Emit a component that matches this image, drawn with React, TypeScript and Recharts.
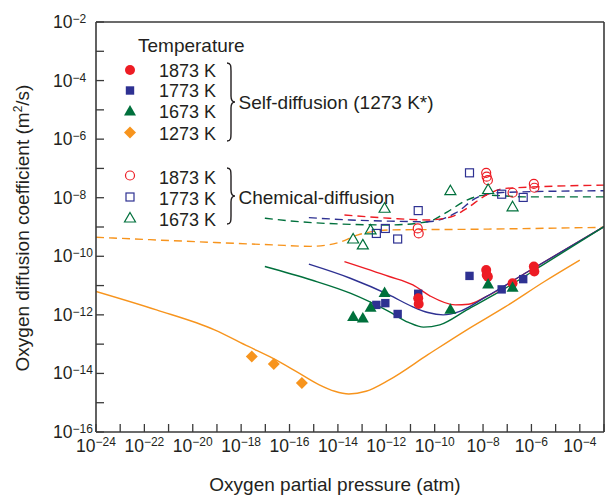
import React from 'react';
import { ComposedChart, Line, Scatter, XAxis, YAxis } from 'recharts';

// All values are log10 of the quantity.
// x: log10 oxygen partial pressure (atm), y: log10 diffusion coefficient (m^2/s)

const xTicks = [-24, -23, -22, -21, -20, -19, -18, -17, -16, -15, -14, -13, -12, -11, -10, -9, -8, -7, -6, -5, -4, -3];
const yTicks = [-16, -15, -14, -13, -12, -11, -10, -9, -8, -7, -6, -5, -4, -3, -2];

// Self-diffusion model curves (solid)
const self1273LineX = [-24, -21.5, -19.1, -17.7, -16.7, -15.73, -14.77, -14.13, -13.55, -12.84, -11.88, -10.28, -8.67, -7.07, -5.46, -4.0];
const self1273LineY = [-11.2, -11.83, -12.51, -13.08, -13.48, -13.93, -14.39, -14.61, -14.7, -14.61, -14.22, -13.36, -12.51, -11.72, -10.86, -10.13];
const self1673LineX = [-17.02, -15.09, -13.49, -11.88, -11.08, -10.46, -9.79, -8.67, -7.07, -5.46, -3.0];
const self1673LineY = [-10.35, -10.81, -11.26, -11.89, -12.26, -12.42, -12.34, -11.83, -11.09, -10.26, -8.99];
const self1773LineX = [-15.2, -13.49, -11.88, -10.92, -10.28, -9.65, -8.99, -7.87, -6.26, -3.0];
const self1773LineY = [-10.27, -10.75, -11.32, -11.72, -11.92, -12.0, -11.89, -11.38, -10.58, -8.99];
const self1873LineX = [-13.73, -11.88, -10.9, -10.2, -9.15, -8.6, -7.87, -6.26, -3.0];
const self1873LineY = [-10.18, -10.69, -10.98, -11.35, -11.66, -11.64, -11.38, -10.58, -8.99];

// Chemical-diffusion model curves (dashed)
const chem1273LineX = [-24, -19.9, -16.7, -15.12, -13.97, -13.17, -11.88, -8.67, -3.0];
const chem1273LineY = [-9.35, -9.5, -9.61, -9.66, -9.53, -9.27, -9.1, -9.08, -9.01];
const chem1673LineX = [-17.02, -15.09, -11.88, -10.28, -9.47, -8.67, -7.87, -6.26, -3.0];
const chem1673LineY = [-8.7, -8.85, -8.93, -8.82, -8.48, -8.08, -7.91, -7.97, -7.97];
const chem1773LineX = [-15.2, -13.49, -11.88, -10.28, -9.15, -8.19, -7.23, -3.0];
const chem1773LineY = [-8.68, -8.76, -8.8, -8.82, -8.53, -7.97, -7.82, -7.76];
const chem1873LineX = [-13.73, -11.88, -10.28, -9.31, -8.67, -7.87, -7.07, -3.0];
const chem1873LineY = [-8.59, -8.7, -8.76, -8.65, -8.36, -7.91, -7.68, -7.57];

// Self-diffusion measurements (filled markers)
const self1873X = [-10.68, -10.66, -7.87, -7.85, -7.8, -6.78, -5.9, -5.88];
const self1873Y = [-11.43, -11.63, -10.47, -10.64, -10.7, -10.92, -10.35, -10.52];
const self1773X = [-12.41, -12.04, -11.53, -10.68, -8.56, -7.23, -6.34];
const self1773Y = [-11.66, -11.6, -11.97, -11.28, -10.67, -11.13, -10.78];
const self1673X = [-13.37, -12.97, -12.65, -12.07, -9.35, -7.79, -6.78];
const self1673Y = [-12.06, -12.11, -11.74, -11.24, -11.81, -10.95, -11.06];
const self1273X = [-17.56, -16.65, -15.49];
const self1273Y = [-13.42, -13.68, -14.33];

// Chemical-diffusion measurements (open markers)
const chem1873X = [-10.7, -10.66, -7.87, -7.85, -7.8, -6.78, -5.9, -5.88];
const chem1873Y = [-9.05, -9.22, -7.15, -7.28, -7.4, -7.83, -7.53, -7.66];
const chem1773X = [-12.41, -12.04, -11.53, -10.68, -8.56, -7.23, -6.34];
const chem1773Y = [-9.22, -9.05, -9.41, -8.44, -7.15, -7.88, -7.99];
const chem1673X = [-13.37, -12.97, -12.65, -12.07, -9.35, -7.79, -6.78];
const chem1673Y = [-9.41, -9.61, -9.1, -8.36, -7.76, -7.72, -8.31];

const selfLegend = ['1873 K', '1773 K', '1673 K', '1273 K'];
const chemLegend = ['1873 K', '1773 K', '1673 K'];

const RED = '#ed1c24';
const BLUE = '#2e3192';
const GREEN = '#00703c';
const ORANGE = '#f7941d';
const AXIS = '#3a3a3a';
const TEXT = '#231f20';
const FONT = '"Liberation Sans", Arial, Helvetica, sans-serif';

const zip = (xs: number[], ys: number[]) => xs.map((x, i) => ({ x, y: ys[i] }));

const FilledCircle = ({ cx, cy, color }: any) => <circle cx={cx} cy={cy} r={5} fill={color} />;
const FilledSquare = ({ cx, cy, color }: any) => <rect x={cx - 4.2} y={cy - 4.2} width={8.4} height={8.4} fill={color} />;
const FilledTriangle = ({ cx, cy, color }: any) => (
  <path d={`M${cx},${cy - 6} L${cx + 6},${cy + 4.5} L${cx - 6},${cy + 4.5} Z`} fill={color} />
);
const FilledDiamond = ({ cx, cy, color }: any) => (
  <path d={`M${cx},${cy - 6} L${cx + 6},${cy} L${cx},${cy + 6} L${cx - 6},${cy} Z`} fill={color} />
);
const OpenCircle = ({ cx, cy, color }: any) => <circle cx={cx} cy={cy} r={4.5} fill="none" stroke={color} strokeWidth={1.2} />;
const OpenSquare = ({ cx, cy, color }: any) => (
  <rect x={cx - 4} y={cy - 4} width={8} height={8} fill="none" stroke={color} strokeWidth={1.2} />
);
const OpenTriangle = ({ cx, cy, color }: any) => (
  <path d={`M${cx},${cy - 5.5} L${cx + 5.5},${cy + 4} L${cx - 5.5},${cy + 4} Z`} fill="none" stroke={color} strokeWidth={1.2} />
);

const XTick = (props: any) => {
  const { x, y, payload } = props;
  const v = payload.value;
  if (Math.abs(v % 2) === 1 || v > -4) return <g />;
  return (
    <text x={x} y={y + 20} textAnchor="middle" fill={TEXT} fontFamily={FONT}>
      <tspan fontSize={17.5}>10</tspan>
      <tspan fontSize={12} dy={-6}>{'\u2212' + Math.abs(v)}</tspan>
    </text>
  );
};

const YTick = (props: any) => {
  const { x, y, payload } = props;
  const v = payload.value;
  if (Math.abs(v % 2) === 1) return <g />;
  return (
    <text x={x - 43} y={y + 6} textAnchor="start" fill={TEXT} fontFamily={FONT}>
      <tspan fontSize={17.5}>10</tspan>
      <tspan fontSize={12} dy={-5}>{'\u2212' + Math.abs(v)}</tspan>
    </text>
  );
};

const brace = (x0: number, top: number, bottom: number) => {
  const mid = (top + bottom) / 2;
  const w = 4;
  return `M${x0},${top} C${x0 + w},${top} ${x0 + w},${top + 3} ${x0 + w},${top + 8} L${x0 + w},${mid - 6} C${x0 + w},${mid - 2} ${x0 + w + 1},${mid} ${x0 + 2 * w},${mid} C${x0 + w + 1},${mid} ${x0 + w},${mid + 2} ${x0 + w},${mid + 6} L${x0 + w},${bottom - 8} C${x0 + w},${bottom - 3} ${x0 + w},${bottom} ${x0},${bottom}`;
};

const LegendOverlay = () => {
  const selfRows = [76.5, 97.3, 118.3, 140];
  const chemRows = [184, 205, 226];
  const selfMarks = [
    <FilledCircle key="a" cx={130} cy={70} color={RED} />,
    <FilledSquare key="b" cx={130} cy={90.5} color={BLUE} />,
    <FilledTriangle key="c" cx={130} cy={111} color={GREEN} />,
    <FilledDiamond key="d" cx={130} cy={132.5} color={ORANGE} />,
  ];
  const chemMarks = [
    <OpenCircle key="e" cx={130} cy={175.5} color={RED} />,
    <OpenSquare key="f" cx={130} cy={197} color={BLUE} />,
    <OpenTriangle key="g" cx={130} cy={218} color={GREEN} />,
  ];
  return (
    <svg width={611} height={498} style={{ position: 'absolute', left: 0, top: 0, pointerEvents: 'none' }}>
      <g fontFamily={FONT} fill={TEXT}>
        <text x={138} y={51.5} fontSize={19}>Temperature</text>
        {selfMarks}
        {selfLegend.map((t, i) => (
          <text key={'s' + i} x={159} y={selfRows[i]} fontSize={18}>{t}</text>
        ))}
        <path d={brace(227, 63, 141)} fill="none" stroke={TEXT} strokeWidth={1.4} />
        <text x={238.5} y={109.3} fontSize={19}>Self-diffusion (1273 K*)</text>
        {chemMarks}
        {chemLegend.map((t, i) => (
          <text key={'c' + i} x={159} y={chemRows[i]} fontSize={18}>{t}</text>
        ))}
        <path d={brace(227, 168, 224)} fill="none" stroke={TEXT} strokeWidth={1.4} />
        <text x={238.5} y={204.3} fontSize={19}>Chemical-diffusion</text>
        <text x={335} y={491} fontSize={19} textAnchor="middle">Oxygen partial pressure (atm)</text>
        <text transform="translate(29,228) rotate(-90)" fontSize={19} textAnchor="middle">
          Oxygen diffusion coefficient (m<tspan fontSize={12} dy={-7}>2</tspan><tspan dy={7}>/s)</tspan>
        </text>
      </g>
    </svg>
  );
};

export default function App() {
  const axisLine = { stroke: AXIS, strokeWidth: 1.6 };
  const tickLine = { stroke: AXIS, strokeWidth: 1.3 };
  const solid = (data: any[], color: string, key: string) => (
    <Line key={key} xAxisId="b" yAxisId="l" data={data} dataKey="y" type="monotone" stroke={color}
      strokeWidth={1.4} dot={false} activeDot={false} isAnimationActive={false} legendType="none" />
  );
  const dashed = (data: any[], color: string, key: string) => (
    <Line key={key} xAxisId="b" yAxisId="l" data={data} dataKey="y" type="monotone" stroke={color}
      strokeWidth={1.4} strokeDasharray="8 5" dot={false} activeDot={false} isAnimationActive={false} legendType="none" />
  );
  const scatter = (data: any[], Shape: any, color: string, key: string, top = false) => (
    <Scatter key={key} xAxisId={top ? 't' : 'b'} yAxisId={top ? 'r' : 'l'} data={data} dataKey="y"
      isAnimationActive={false} legendType="none"
      shape={(p: any) => <Shape cx={p.cx} cy={p.cy} color={color} />} />
  );
  return (
    <div style={{ position: 'absolute', left: 0, top: 0, width: 611, height: 498, background: '#fff' }}>
      <ComposedChart width={611} height={498} margin={{ top: 20, right: 5, bottom: 30, left: 0 }}>
        <XAxis xAxisId="b" type="number" dataKey="x" domain={[-24, -3]} ticks={xTicks} interval={0}
          allowDataOverflow height={36} tickSize={-8} tickMargin={8} axisLine={axisLine} tickLine={tickLine}
          tick={<XTick />} />
        <XAxis xAxisId="t" orientation="top" type="number" dataKey="x" domain={[-24, -3]} ticks={xTicks} interval={0}
          allowDataOverflow height={2} tickSize={-8} axisLine={axisLine} tickLine={tickLine} tick={false} />
        <YAxis yAxisId="l" type="number" dataKey="y" domain={[-16, -2]} ticks={yTicks} interval={0}
          allowDataOverflow width={96} tickSize={-8} tickMargin={8} axisLine={axisLine} tickLine={tickLine}
          tick={<YTick />} />
        <YAxis yAxisId="r" orientation="right" type="number" dataKey="y" domain={[-16, -2]} ticks={yTicks} interval={0}
          allowDataOverflow width={2} tickSize={-8} axisLine={axisLine} tickLine={tickLine} tick={false} />

        {dashed(zip(chem1273LineX, chem1273LineY), ORANGE, 'd1273')}
        {dashed(zip(chem1673LineX, chem1673LineY), GREEN, 'd1673')}
        {dashed(zip(chem1773LineX, chem1773LineY), BLUE, 'd1773')}
        {dashed(zip(chem1873LineX, chem1873LineY), RED, 'd1873')}
        {solid(zip(self1273LineX, self1273LineY), ORANGE, 's1273')}
        {solid(zip(self1873LineX, self1873LineY), RED, 's1873')}
        {solid(zip(self1773LineX, self1773LineY), BLUE, 's1773')}
        {solid(zip(self1673LineX, self1673LineY), GREEN, 's1673')}

        {scatter(zip(self1273X, self1273Y), FilledDiamond, ORANGE, 'p1273')}
        {scatter(zip(self1773X, self1773Y), FilledSquare, BLUE, 'p1773')}
        {scatter(zip(self1873X, self1873Y), FilledCircle, RED, 'p1873')}
        {scatter(zip(self1673X, self1673Y), FilledTriangle, GREEN, 'p1673')}
        {scatter(zip(chem1773X, chem1773Y), OpenSquare, BLUE, 'o1773', true)}
        {scatter(zip(chem1873X, chem1873Y), OpenCircle, RED, 'o1873', true)}
        {scatter(zip(chem1673X, chem1673Y), OpenTriangle, GREEN, 'o1673', true)}
      </ComposedChart>
      <LegendOverlay />
    </div>
  );
}
